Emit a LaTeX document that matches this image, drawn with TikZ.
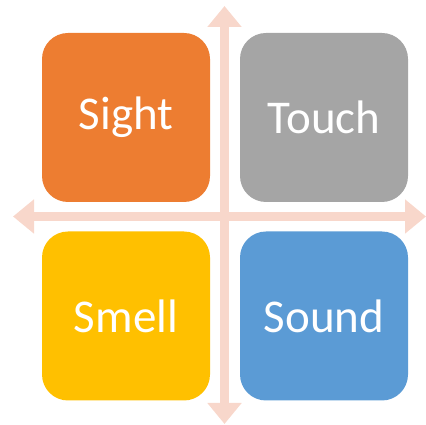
\documentclass[tikz,border=0pt]{standalone}
\usepackage{fontspec}
\setmainfont{Carlito}
\usetikzlibrary{arrows.meta}
\definecolor{cOrange}{HTML}{ED7D31}
\definecolor{cGray}{HTML}{A5A5A5}
\definecolor{cYellow}{HTML}{FFC000}
\definecolor{cBlue}{HTML}{5B9BD5}
\definecolor{cArrow}{HTML}{F8D7CB}
\tikzset{
  sense/.style={rounded corners=26pt, minimum width=168pt, minimum height=169pt, inner sep=0pt, text=white, font=\fontsize{47}{56}\selectfont},
  axis/.style={draw=cArrow, line width=9pt, {Triangle[width=33pt,length=21pt]}-{Triangle[width=33pt,length=21pt]}}
}
\begin{document}
\begin{tikzpicture}[x=1pt,y=1pt]
\useasboundingbox (0,0) rectangle (426,425);
\coordinate (top) at (224.5,419);
\coordinate (bottom) at (224.5,1);
\coordinate (left) at (13,208.5);
\coordinate (right) at (426,208.5);
\draw[axis] (bottom) -- (top);
\draw[axis] (left) -- (right);
\node[sense, fill=cOrange] (sight) at (126,307.5) {Sight};
\node[sense, fill=cGray] (touch) at (324,307.5) {Touch};
\node[sense, fill=cYellow] (smell) at (126,109) {Smell};
\node[sense, fill=cBlue] (sound) at (324,109) {Sound};
\end{tikzpicture}
\end{document}
